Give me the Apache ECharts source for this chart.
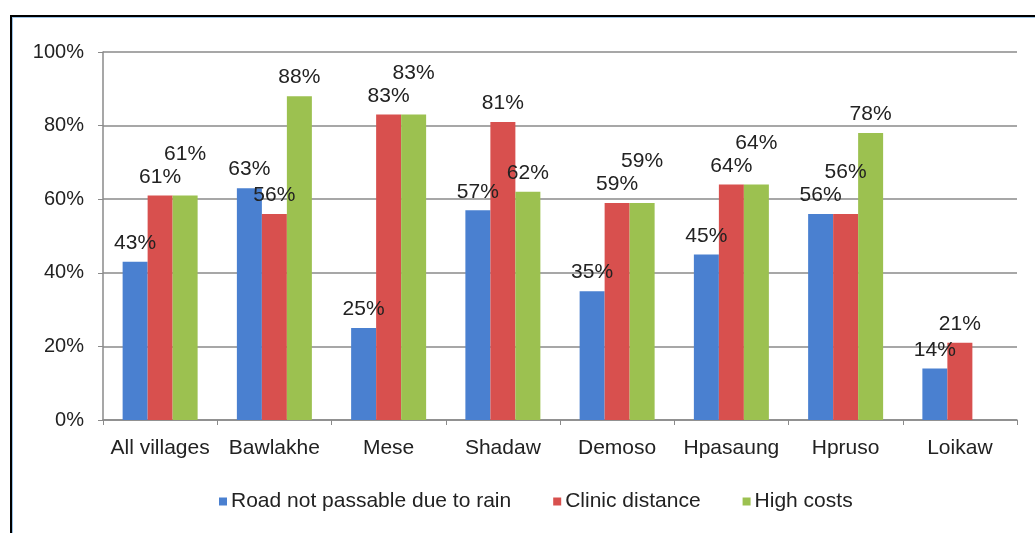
<!DOCTYPE html>
<html>
<head>
<meta charset="utf-8">
<script src="https://cdn.jsdelivr.net/npm/echarts@6/dist/echarts.min.js"></script>
<style>
html,body{margin:0;padding:0;background:#fff;}
#frame{position:absolute;left:10px;top:15px;width:1025px;height:518px;border-left:2px solid #000;border-top:2px solid #000;box-sizing:border-box;}
#inner{position:absolute;left:0;top:0;right:0;bottom:0;border-left:1px solid #9cc3e6;border-top:1px solid #9cc3e6;}
#chart{position:absolute;left:0;top:0;width:1035px;height:533px;}
</style>
</head>
<body>
<div id="frame"><div id="inner"></div></div>
<div id="chart"></div>
<script>
const categories = ['All villages','Bawlakhe','Mese','Shadaw','Demoso','Hpasaung','Hpruso','Loikaw'];
const roadNotPassable = [43, 63, 25, 57, 35, 45, 56, 14];
const clinicDistance = [61, 56, 83, 81, 59, 64, 56, 21];
const highCosts = [61, 88, 83, 62, 59, 64, 78, null];
const yTicks = [0, 20, 40, 60, 80, 100];
const seriesNames = ['Road not passable due to rain', 'Clinic distance', 'High costs'];
const seriesValues = [roadNotPassable, clinicDistance, highCosts];
const seriesColors = ['#4a80d0', '#d8504e', '#9cc150'];

const chart = echarts.init(document.getElementById('chart'));
const font = 'Liberation Sans, Arial, sans-serif';
const LABEL_FS = 21, LABEL_DIST = 8, LABEL_H = 23;

function buildSeries(offsets){
  return seriesNames.map(function(name, s){
    return {
      name: name, type: 'bar', barWidth: 25, barGap: '0%',
      data: seriesValues[s].map(function(v, i){
        return {value: v, label: {offset: [0, offsets ? offsets[s][i] : 0]}};
      }),
      itemStyle: {color: seriesColors[s]},
      label: {show: true, position: 'top', formatter: function(p){return p.value + '%';},
              fontFamily: font, fontSize: LABEL_FS, color: '#222', distance: LABEL_DIST}
    };
  });
}

chart.setOption({
  animation: false,
  backgroundColor: 'transparent',
  grid: {left: 103, right: 18, top: 52, bottom: 113},
  legend: {
    bottom: 16, left: 214, itemWidth: 8, itemHeight: 8, itemGap: 42,
    icon: 'rect',
    textStyle: {fontFamily: font, fontSize: 21, color: '#222', padding: [0,0,0,-1]},
    data: seriesNames
  },
  xAxis: {
    type: 'category', data: categories,
    axisLine: {lineStyle: {color: '#8a8a8a', width: 1.5}},
    axisTick: {show: true, length: 5, lineStyle: {color: '#8a8a8a'}},
    axisLabel: {fontFamily: font, fontSize: 21, color: '#222', margin: 18, interval: 0}
  },
  yAxis: {
    type: 'value', min: yTicks[0], max: yTicks[yTicks.length-1], interval: 20,
    axisLine: {show: true, lineStyle: {color: '#8a8a8a', width: 1.5}},
    axisTick: {show: true, length: 5, lineStyle: {color: '#8a8a8a'}},
    splitLine: {lineStyle: {color: '#8a8a8a', width: 1.5}},
    axisLabel: {fontFamily: font, fontSize: 20, color: '#222', margin: 19, formatter: '{value}%'}
  },
  series: buildSeries(null)
});

// avoid overlapping labels of neighbouring bars: push a label upward if it collides with the previous one
const offsets = seriesValues.map(function(a){ return a.map(function(){ return 0; }); });
for (let i = 0; i < categories.length; i++) {
  let prev = null; // {top, bottom}
  for (let s = 0; s < seriesValues.length; s++) {
    const v = seriesValues[s][i];
    if (v == null) { prev = null; continue; }
    const py = chart.convertToPixel({gridIndex: 0}, [i, v])[1];
    let bottom = py - LABEL_DIST;
    let top = bottom - LABEL_H;
    if (prev && bottom > prev.top && top < prev.bottom) {
      offsets[s][i] = prev.top - bottom;
      bottom = prev.top;
      top = bottom - LABEL_H;
    }
    prev = {top: top, bottom: bottom};
  }
}
chart.setOption({series: buildSeries(offsets)});
</script>
</body>
</html>
